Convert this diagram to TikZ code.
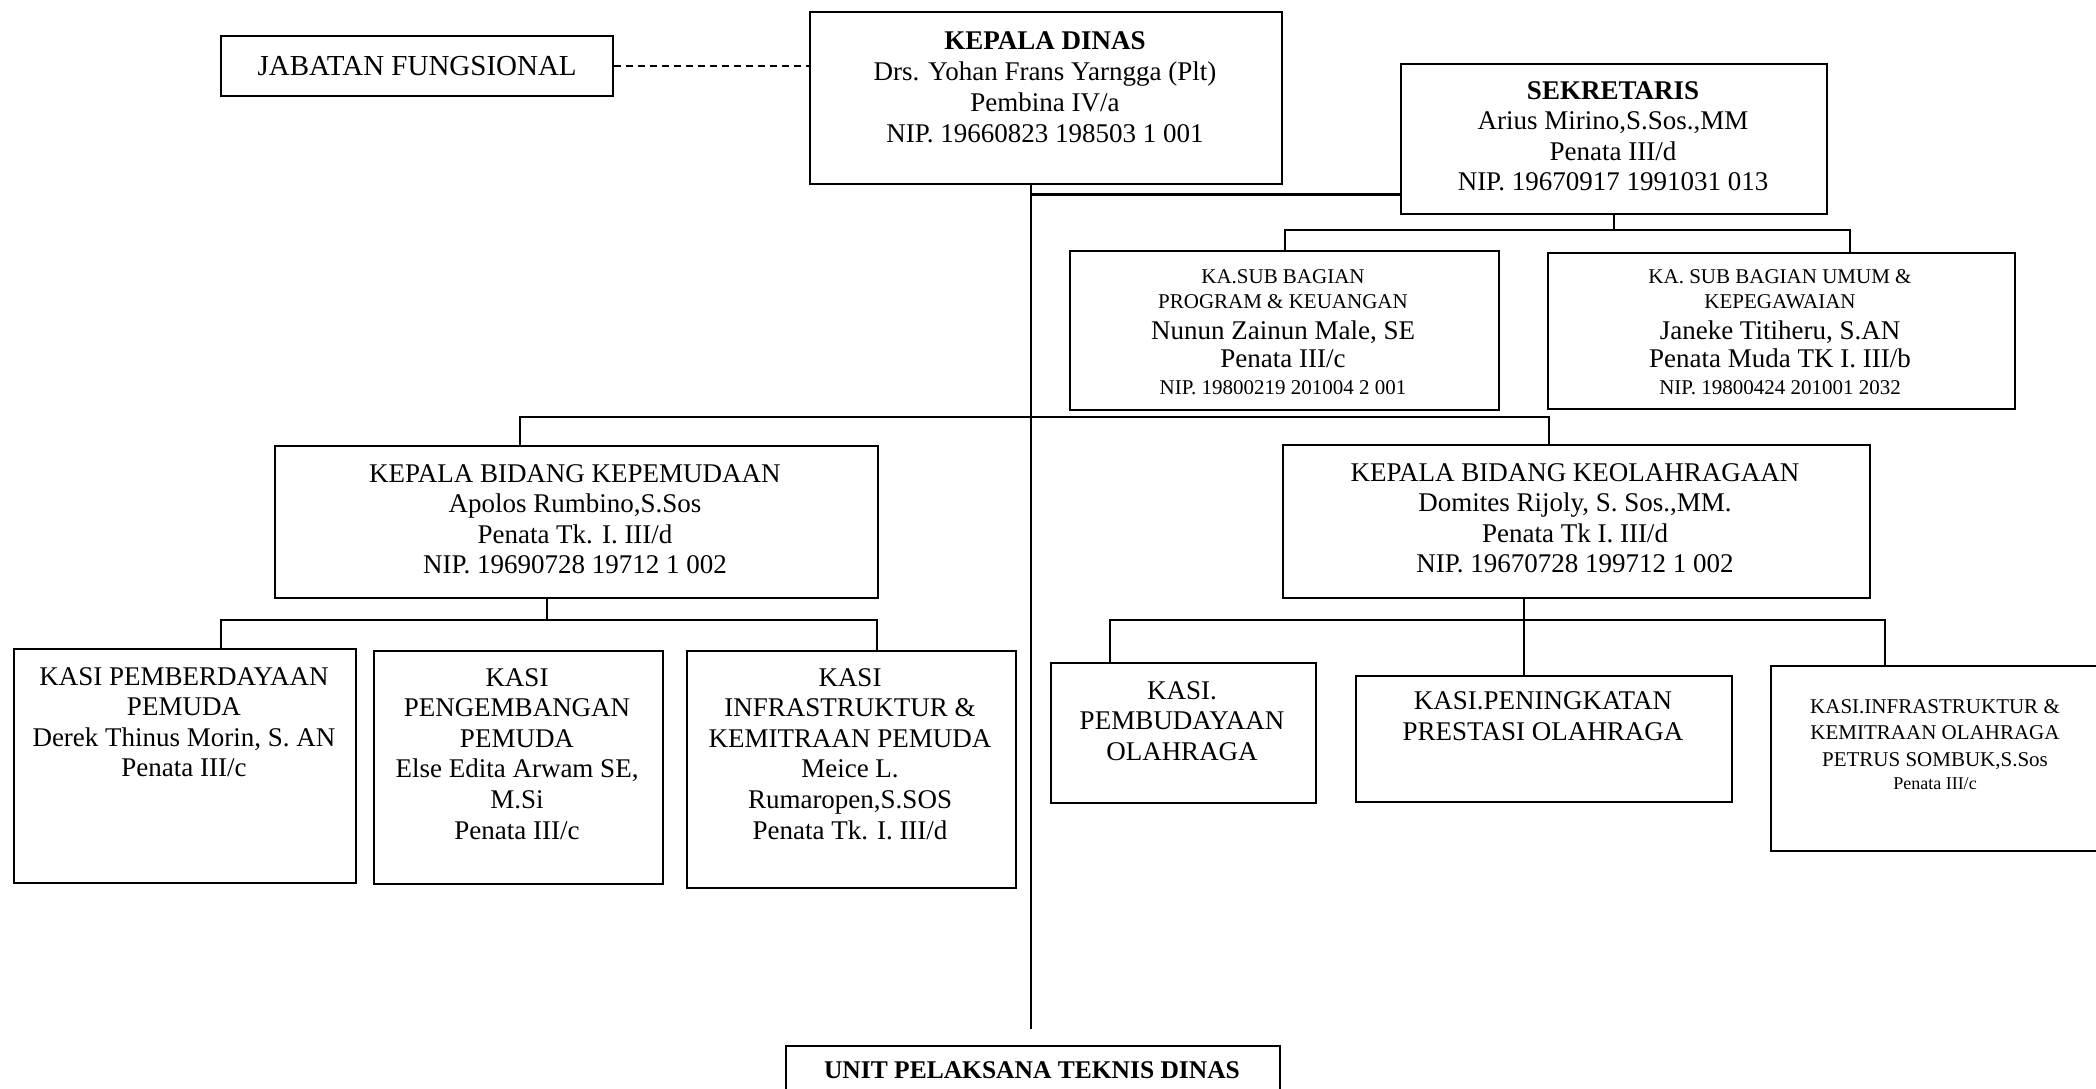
\documentclass[tikz,border=0pt]{standalone}
\usepackage{fontspec}
\setmainfont{Liberation Serif}
\begin{document}
\begin{tikzpicture}[x=1pt,y=-1pt,
  box/.style={draw, line width=2.4pt, inner sep=0pt, anchor=north west},
  conn/.style={line width=2.2pt},
  dashconn/.style={line width=2.2pt, dash pattern=on 7pt off 5pt},
  txt/.style={anchor=north, inner sep=0pt, align=center, font=\fontsize{27}{30.6}\selectfont},
  smalltxt/.style={anchor=north, inner sep=0pt, align=center, font=\fontsize{21}{26.5}\selectfont}]
\newcommand{\orgbox}[5]{\node[box, minimum width={(#4-#2)*1pt}, minimum height={(#5-#3)*1pt}] (#1) at (#2,#3) {};}
\newcommand{\sm}{\fontsize{21}{25}\selectfont}
\fill[white] (0,0) rectangle (2096,1088);
\useasboundingbox (0,0) rectangle (2096,1088);
% boxes
\orgbox{jf}{220}{35}{612}{95}
\orgbox{kd}{809}{11}{1281}{183}
\orgbox{sek}{1400}{63}{1826}{213}
\orgbox{sub1}{1069}{250}{1498}{409}
\orgbox{sub2}{1547}{252}{2014}{408}
\orgbox{kp}{274}{445}{877}{597}
\orgbox{ko}{1282}{444}{1869}{597}
\orgbox{k1}{13}{648}{355}{882}
\orgbox{k2}{373}{650}{662}{883}
\orgbox{k3}{686}{650}{1015}{887}
\orgbox{k4}{1050}{662}{1315}{802}
\orgbox{k5}{1355}{675}{1731}{801}
\orgbox{k6}{1770}{665}{2110}{850}
\orgbox{upt}{785}{1045}{1279}{1110}
% texts
\node[txt, anchor=center, font=\fontsize{29}{32}\selectfont] (jft) at (jf.center) {JABATAN FUNGSIONAL};
\node[txt, font=\fontsize{27}{31.2}\selectfont] (kdt) at (1045,31) {\textbf{KEPALA DINAS}\\Drs. Yohan Frans Yarngga (Plt)\\Pembina IV/a\\NIP. 19660823 198503 1 001};
\node[txt] (sekt) at (1613,81) {\textbf{SEKRETARIS}\\Arius Mirino,S.Sos.,MM\\Penata III/d\\NIP. 19670917 1991031 013};
\node[txt, font=\fontsize{27}{28}\selectfont] (sub1t) at (1283,269) {{\sm KA.SUB BAGIAN}\\[-3pt]{\sm PROGRAM \& KEUANGAN}\\[3pt]Nunun Zainun Male, SE\\Penata III/c\\[-1pt]{\sm NIP. 19800219 201004 2 001}};
\node[txt, font=\fontsize{27}{28}\selectfont] (sub2t) at (1780,269) {{\sm KA. SUB BAGIAN UMUM \&}\\[-3pt]{\sm KEPEGAWAIAN}\\[3pt]Janeke Titiheru, S.AN\\Penata Muda TK I. III/b\\[-1pt]{\sm NIP. 19800424 201001 2032}};
\node[txt] (kpt) at (575,464) {KEPALA BIDANG KEPEMUDAAN\\Apolos Rumbino,S.Sos\\Penata Tk. I. III/d\\NIP. 19690728 19712 1 002};
\node[txt] (kot) at (1575,463) {KEPALA BIDANG KEOLAHRAGAAN\\Domites Rijoly, S. Sos.,MM.\\Penata Tk I. III/d\\NIP. 19670728 199712 1 002};
\node[txt] (k1t) at (184,667) {KASI PEMBERDAYAAN\\PEMUDA\\Derek Thinus Morin, S. AN\\Penata III/c};
\node[txt] (k2t) at (517,668) {KASI\\PENGEMBANGAN\\PEMUDA\\Else Edita Arwam SE,\\M.Si\\Penata III/c};
\node[txt] (k3t) at (850,668) {KASI\\INFRASTRUKTUR \&\\KEMITRAAN PEMUDA\\Meice L.\\Rumaropen,S.SOS\\Penata Tk. I. III/d};
\node[txt] (k4t) at (1182,681) {KASI.\\PEMBUDAYAAN\\OLAHRAGA};
\node[txt, font=\fontsize{27}{31}\selectfont] (k5t) at (1543,691) {KASI.PENINGKATAN\\PRESTASI OLAHRAGA};
\node[smalltxt] (k6t) at (1935,699) {KASI.INFRASTRUKTUR \&\\KEMITRAAN OLAHRAGA\\PETRUS SOMBUK,S.Sos\\[-3pt]{\fontsize{18}{22}\selectfont Penata III/c}};
\node[txt, font=\fontsize{25.5}{30}\selectfont] (uptt) at (1032,1061) {\textbf{UNIT PELAKSANA TEKNIS DINAS}};
% helper coordinates
\coordinate (tx) at (1031,0);
\coordinate (sb) at (0,230);
\coordinate (s2x) at (1850,0);
\coordinate (bb) at (0,417);
\coordinate (kpx) at (520,0);
\coordinate (kox) at (1549,0);
\coordinate (kl) at (0,620);
\coordinate (kpbx) at (547,0);
\coordinate (k1x) at (221,0);
\coordinate (k3x) at (877,0);
\coordinate (kobx) at (1524,0);
\coordinate (k4x) at (1110,0);
\coordinate (k6x) at (1885,0);
\path ([yshift=21pt]sek.south west) coordinate (sekin);
% connectors
\draw[dashconn] (jf.east) -- (jf.east -| kd.west);
\draw[conn] (kd.south -| tx) -- ([yshift=16pt]upt.north -| tx);
\draw[conn] (sekin -| tx) -- (sekin);
\draw[conn] (sek.south) -- (sek.south |- sb);
\draw[conn] (sub1.north) -- (sub1.north |- sb) -- (s2x |- sb) -- (s2x |- sub2.north);
\draw[conn] (kpx |- kp.north) -- (kpx |- bb) -- (kox |- bb) -- (kox |- ko.north);
\draw[conn] (kpbx |- kp.south) -- (kpbx |- kl);
\draw[conn] (k1x |- k1.north) -- (k1x |- kl) -- (k3x |- kl) -- (k3x |- k3.north);
\draw[conn] (kobx |- ko.south) -- (kobx |- k5.north);
\draw[conn] (k4x |- k4.north) -- (k4x |- kl) -- (k6x |- kl) -- (k6x |- k6.north);
\end{tikzpicture}
\end{document}
